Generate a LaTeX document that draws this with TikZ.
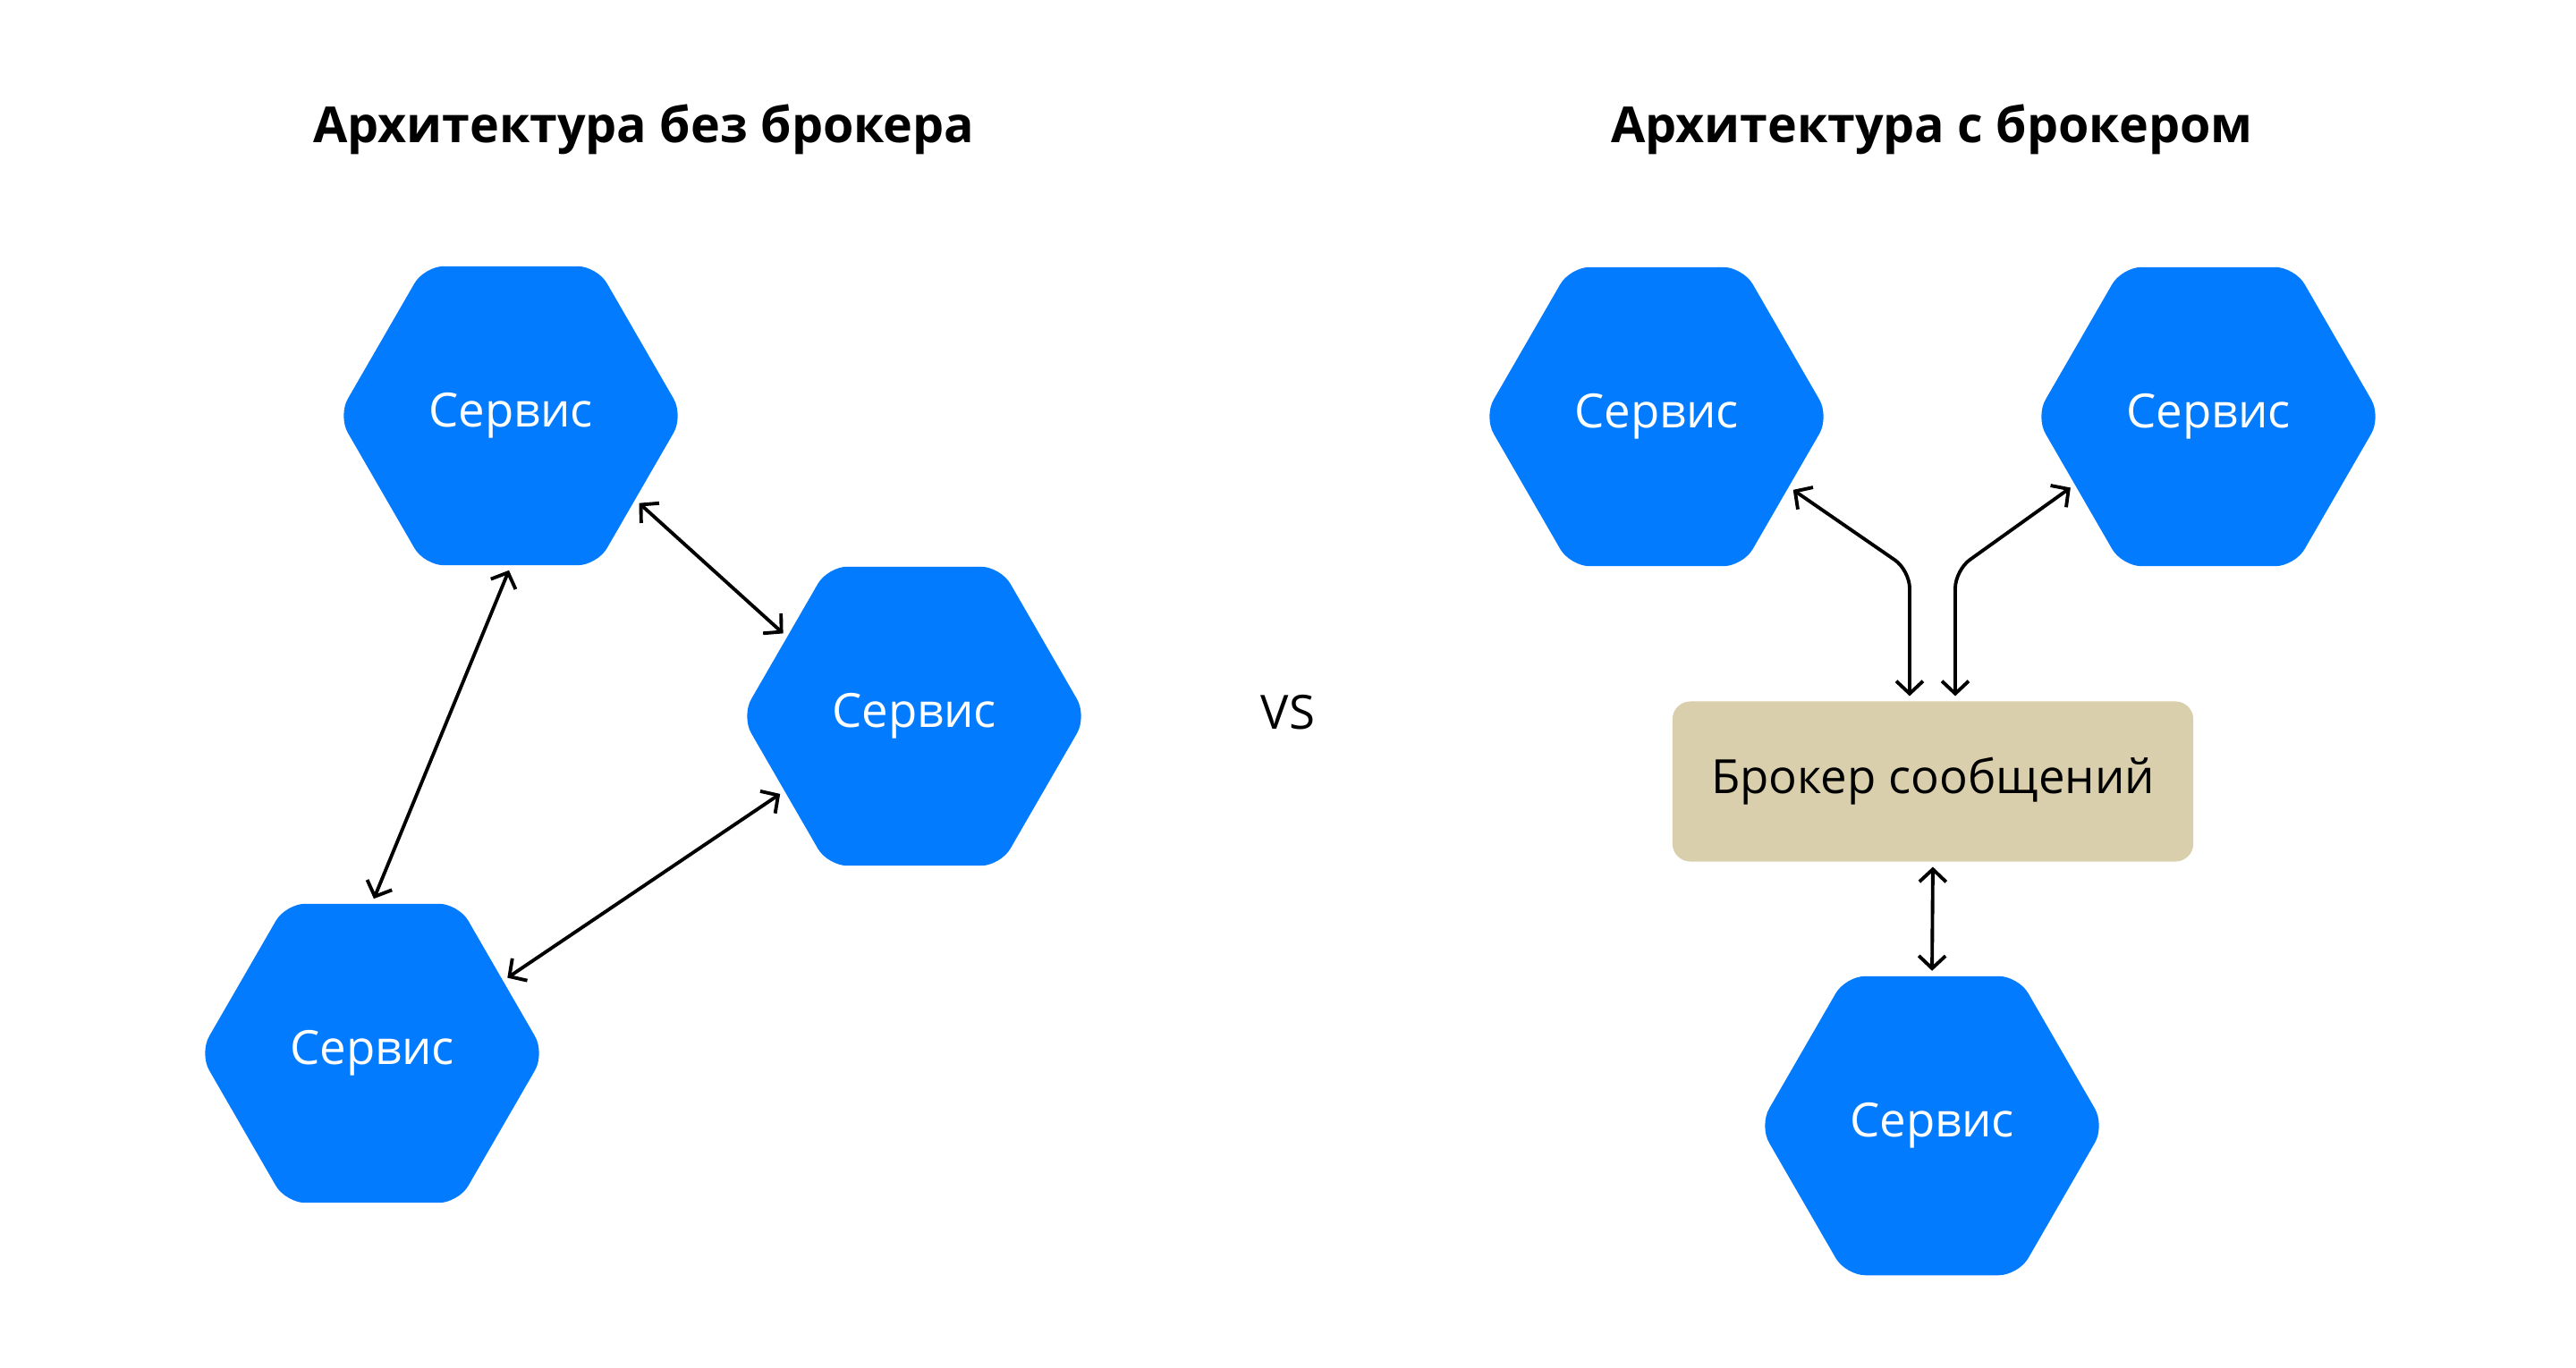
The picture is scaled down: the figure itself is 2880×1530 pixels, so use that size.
\documentclass[tikz,border=0pt]{standalone}
\usepackage{fontspec}
\setmainfont{Open Sans}
\usetikzlibrary{shapes.geometric,arrows.meta,calc}
\definecolor{serviceblue}{HTML}{037BFF}
\definecolor{brokersand}{HTML}{D9CFAD}

\begin{document}
\begin{tikzpicture}[x=0.01cm,y=-0.01cm]
  %\draw[help lines] (0,0) grid (2880,1530);
  \tikzset{ServiceStyle/.style = {%
      regular polygon,
      regular polygon sides = 6,
      minimum size = 3.86cm,
      inner sep = 0pt,
      rounded corners = 0.22cm,
      fill = serviceblue,
      text = white,
      font = \fontsize{15}{18}\selectfont},
    BrokerStyle/.style = {%
      rectangle,
      minimum width = 5.82cm,
      minimum height = 1.79cm,
      rounded corners = 0.2cm,
      fill = brokersand,
      font = \fontsize{15}{18}\selectfont},
    TitleStyle/.style = {font = \fontsize{15.8}{19}\selectfont\bfseries},
    LinkStyle/.style = {%
      {Straight Barb[length=4pt,width=8.5pt]}-{Straight Barb[length=4pt,width=8.5pt]},
      line width = 1.1pt,
      shorten < = 1.5pt, shorten > = 1.5pt}}
  \useasboundingbox (0,0) rectangle (2880,1530);
  % without broker
  \node[TitleStyle] (titleA) at (720,145) {Архитектура без брокера};
  \node[ServiceStyle] (h1) at (571,465) {Сервис};
  \node[ServiceStyle] (h2) at (1022,801) {Сервис};
  \node[ServiceStyle] (h3) at (416,1178) {Сервис};
  \draw[LinkStyle] (h1.-90) -- (h3.90);
  \draw[LinkStyle] (h1.-34) -- (h2.148);
  \draw[LinkStyle] (h3.29) -- (h2.210);
  % vs
  \node[font=\fontsize{15}{18}\selectfont] (vs) at (1440,797) {VS};
  % with broker
  \node[TitleStyle] (titleB) at (2160,145) {Архитектура с брокером};
  \node[ServiceStyle] (h4) at (1852,466) {Сервис};
  \node[ServiceStyle] (h5) at (2469,466) {Сервис};
  \node[BrokerStyle] (broker) at (2161,874) {Брокер сообщений};
  \node[ServiceStyle] (h6) at (2160,1259) {Сервис};
  \draw[LinkStyle, rounded corners=0.2cm] (h4.-28)
    -- ($(broker.north)+(-26,-146)$) -- ([xshift=-0.26cm]broker.north);
  \draw[LinkStyle, rounded corners=0.2cm] (h5.207)
    -- ($(broker.north)+(25,-146)$) -- ([xshift=0.25cm]broker.north);
  \draw[LinkStyle] (broker.south) -- (h6.north);
\end{tikzpicture}
\end{document}
